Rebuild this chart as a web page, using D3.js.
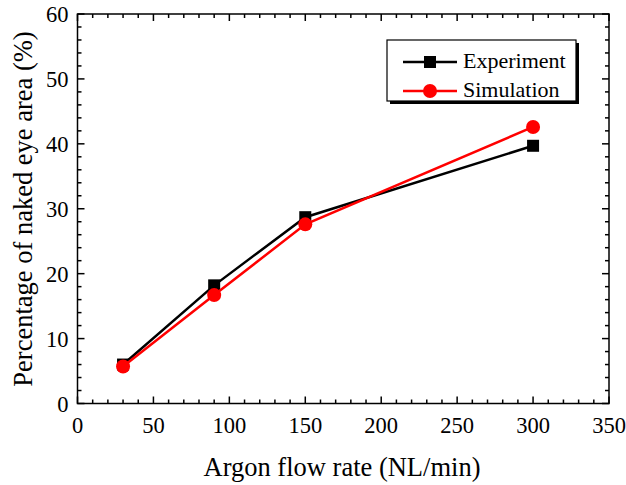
<!DOCTYPE html>
<html><head><meta charset="utf-8">
<script src="https://cdn.jsdelivr.net/npm/d3@7"></script>
<style>body{margin:0;background:#fff}svg{display:block}</style>
</head><body><svg id="c" width="626" height="485"></svg>
<script>
const flowRates = [30, 90, 150, 300];
const experiment = [6.0, 18.2, 28.7, 39.7];
const simulation = [5.7, 16.7, 27.6, 42.6];
const xTicks = [0, 50, 100, 150, 200, 250, 300, 350];
const yTicks = [0, 10, 20, 30, 40, 50, 60];
const seriesNames = ["Experiment", "Simulation"];

const FONT = "'Liberation Serif', 'Times New Roman', 'DejaVu Serif', serif";
const svg = d3.select("#c").attr("font-family", FONT);
const L = 77.5, R = 609, T = 14, B = 403.5;
const x = d3.scaleLinear().domain([0, 350]).range([L, R]);
const y = d3.scaleLinear().domain([0, 60]).range([B, T]);

const g = svg.append("g");
const minorX = d3.range(0, 351, 10), minorY = d3.range(0, 61, 2);
const ax = g.append("g").attr("stroke", "#000").attr("stroke-width", 1.5);
ax.append("rect").attr("x", L).attr("y", T).attr("width", R - L).attr("height", B - T).attr("fill", "none");
minorX.forEach(v => {
  const len = v % 50 === 0 ? 7 : 4;
  ax.append("line").attr("x1", x(v)).attr("x2", x(v)).attr("y1", B).attr("y2", B - len);
  ax.append("line").attr("x1", x(v)).attr("x2", x(v)).attr("y1", T).attr("y2", T + len);
});
minorY.forEach(v => {
  const len = v % 10 === 0 ? 7 : 4;
  ax.append("line").attr("y1", y(v)).attr("y2", y(v)).attr("x1", L).attr("x2", L + len);
  ax.append("line").attr("y1", y(v)).attr("y2", y(v)).attr("x1", R).attr("x2", R - len);
});
g.selectAll(".xl").data(xTicks).enter().append("text").attr("font-family", FONT)
  .attr("x", d => x(d)).attr("y", 433).attr("text-anchor", "middle").attr("font-size", 22.5).text(d => d);
g.selectAll(".yl").data(yTicks).enter().append("text").attr("font-family", FONT)
  .attr("x", L - 9).attr("y", d => y(d) + 8).attr("text-anchor", "end").attr("font-size", 22.5).text(d => d);
g.append("text").attr("font-family", FONT).attr("x", 342).attr("y", 476).attr("text-anchor", "middle").attr("font-size", 26.5).text("Argon flow rate (NL/min)");
g.append("text").attr("font-family", FONT).attr("transform", `translate(32,209) rotate(-90)`).attr("text-anchor", "middle").attr("font-size", 26.5).text("Percentage of naked eye area (%)");

const line = d3.line().x(d => x(d[0])).y(d => y(d[1]));
const expData = flowRates.map((f, i) => [f, experiment[i]]);
const simData = flowRates.map((f, i) => [f, simulation[i]]);
svg.append("path").datum(expData).attr("d", line).attr("fill", "none").attr("stroke", "#000").attr("stroke-width", 2.5);
svg.selectAll(".sq").data(expData).enter().append("rect")
  .attr("x", d => x(d[0]) - 6).attr("y", d => y(d[1]) - 6).attr("width", 12).attr("height", 12).attr("fill", "#000");
svg.append("path").datum(simData).attr("d", line).attr("fill", "none").attr("stroke", "#f00").attr("stroke-width", 2.5);
svg.selectAll(".ci").data(simData).enter().append("circle")
  .attr("cx", d => x(d[0])).attr("cy", d => y(d[1])).attr("r", 7).attr("fill", "#f00");

const lg = svg.append("g");
lg.append("rect").attr("x", 390).attr("y", 43).attr("width", 189).attr("height", 61).attr("fill", "#000");
lg.append("rect").attr("x", 387).attr("y", 40).attr("width", 189).attr("height", 61).attr("fill", "#fff").attr("stroke", "#000").attr("stroke-width", 1.2);
const items = [{name: seriesNames[0], c: "#000", sq: true, yy: 62}, {name: seriesNames[1], c: "#f00", sq: false, yy: 91}];
items.forEach(it => {
  lg.append("line").attr("x1", 403).attr("x2", 457).attr("y1", it.yy).attr("y2", it.yy).attr("stroke", it.c).attr("stroke-width", 2.5);
  if (it.sq) lg.append("rect").attr("x", 424).attr("y", it.yy - 6).attr("width", 12).attr("height", 12).attr("fill", it.c);
  else lg.append("circle").attr("cx", 430).attr("cy", it.yy).attr("r", 7).attr("fill", it.c);
  lg.append("text").attr("font-family", FONT).attr("x", 463).attr("y", it.yy + 6).attr("font-size", 22).text(it.name);
});
</script></body></html>
